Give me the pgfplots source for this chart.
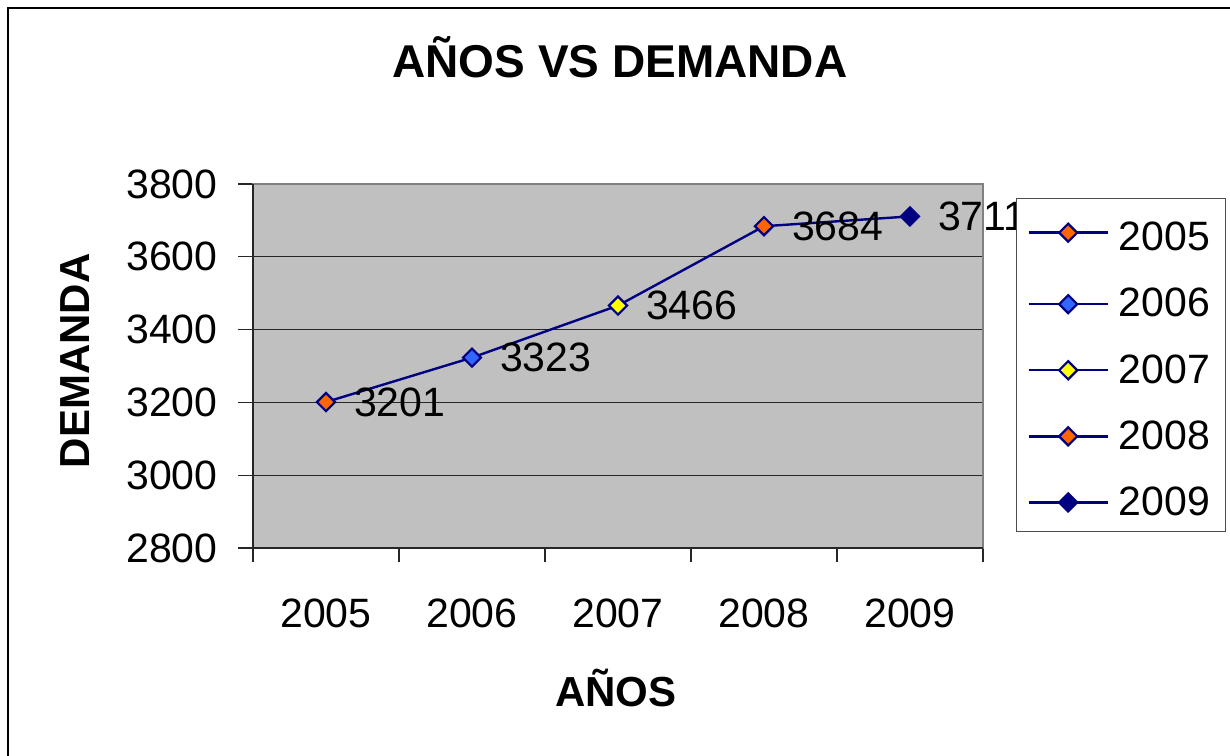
\documentclass[border=0pt]{standalone}
\usepackage{fontspec}
\setmainfont{Liberation Sans}
\usepackage{pgfplots}
\pgfplotsset{compat=1.18}
\definecolor{navyc}{HTML}{000080}
\definecolor{orangec}{HTML}{FF6600}
\definecolor{bluec}{HTML}{3366FF}
\definecolor{yellowc}{HTML}{FFFF00}
\definecolor{plotbg}{HTML}{C0C0C0}
\definecolor{framegray}{HTML}{808080}
\begin{document}
\begin{tikzpicture}
\useasboundingbox (0,0) rectangle (615bp,378bp);
\draw[line width=0.75bp] (4bp,-1bp) -- (4bp,374bp) -- (616bp,374bp);
\begin{axis}[
  at={(126.5bp,104bp)}, anchor=south west,
  scale only axis, width=365bp, height=182bp,
  xmin=-0.5, xmax=4.5, ymin=2800, ymax=3800,
  xtick={0,...,4}, xticklabels={2005,2006,2007,2008,2009},
  minor xtick={-0.5,0.5,...,4.5},
  ytick={2800,3000,...,3800},
  tick pos=left, tick align=outside,
  major tick length=7.5bp, minor tick length=7bp,
  major x tick style={draw=none},
  minor x tick style={black!85, line width=0.6bp},
  major y tick style={black!85, line width=0.6bp},
  ymajorgrids, major grid style={black!85, line width=0.5bp},
  axis background/.style={fill=plotbg},
  axis line style={draw=framegray, line width=1bp},
  scaled y ticks=false,
  /pgf/number format/1000 sep={},
  /pgf/number format/assume math mode=true,
  tick label style={font=\fontsize{20.5bp}{24bp}\selectfont, inner sep=0pt},
  yticklabel style={anchor=east, xshift=-10bp},
  xticklabel style={anchor=center, yshift=-25bp},
  title={AÑOS VS DEMANDA},
  title style={font=\bfseries\fontsize{23bp}{27bp}\selectfont, at={(axis description cs:0.5027,1.3155)}, anchor=center, inner sep=0pt},
  xlabel={AÑOS},
  xlabel style={font=\bfseries\fontsize{21bp}{25bp}\selectfont, at={(axis description cs:0.497,-0.3846)}, anchor=center, inner sep=0pt},
  ylabel={DEMANDA},
  ylabel style={font=\bfseries\fontsize{21bp}{25bp}\selectfont, at={(axis description cs:-0.2438,0.514)}, anchor=center, inner sep=0pt},
  clip=false,
  legend image code/.code={\draw[mark repeat=2,mark phase=2] plot coordinates {(0bp,0bp)(19.75bp,0bp)(39.5bp,0bp)};},
  legend style={at={(axis description cs:1.0452,0.9615)}, anchor=north west, draw=black!70, line width=0.5bp, fill=white,
    font=\fontsize{20.5bp}{24bp}\selectfont, inner xsep=5.5bp, inner ysep=4.5bp, row sep=13.25bp,
    /tikz/every odd column/.append style={column sep=3bp}},
  legend cell align=left,
]
\addplot[navyc, line width=1.2bp, forget plot, nodes near coords,
  nodes near coords style={anchor=west, inner sep=0pt, xshift=13.5bp, text=black, font=\fontsize{20.5bp}{24bp}\selectfont}]
  coordinates {(0,3201) (1,3323) (2,3466) (3,3684) (4,3711)};
\addplot[navyc, line width=1.2bp, mark=square*, mark size=3.2bp, mark options={rotate=45, fill=orangec, draw=navyc, line width=1.1bp}]
  coordinates {(0,3201)};
\addlegendentry{\rule{0pt}{19.7bp}2005}
\addplot[navyc, line width=1.2bp, mark=square*, mark size=3.2bp, mark options={rotate=45, fill=bluec, draw=navyc, line width=1.1bp}]
  coordinates {(1,3323)};
\addlegendentry{2006}
\addplot[navyc, line width=1.2bp, mark=square*, mark size=3.2bp, mark options={rotate=45, fill=yellowc, draw=navyc, line width=1.1bp}]
  coordinates {(2,3466)};
\addlegendentry{2007}
\addplot[navyc, line width=1.2bp, mark=square*, mark size=3.2bp, mark options={rotate=45, fill=orangec, draw=navyc, line width=1.1bp}]
  coordinates {(3,3684)};
\addlegendentry{2008}
\addplot[navyc, line width=1.2bp, mark=square*, mark size=3.2bp, mark options={rotate=45, fill=navyc, draw=navyc, line width=1.1bp}]
  coordinates {(4,3711)};
\addlegendentry{2009}
\draw[black!85, line width=0.8bp] (rel axis cs:0,1) -- (rel axis cs:0,0) -- (rel axis cs:1,0);
\end{axis}
\end{tikzpicture}
\end{document}
